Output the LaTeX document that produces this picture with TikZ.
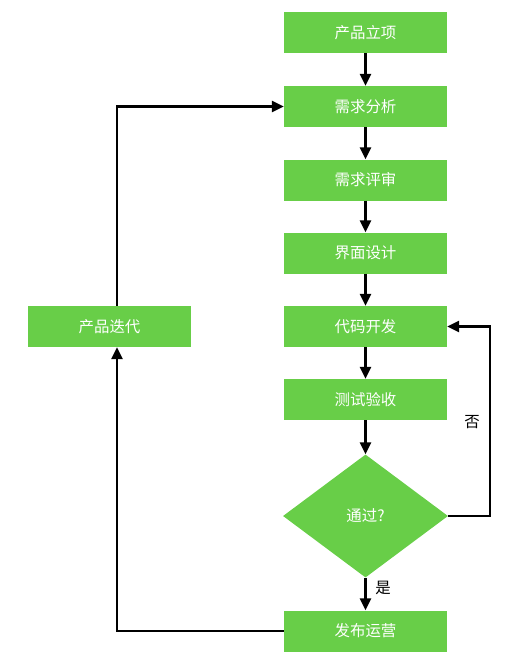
\documentclass[tikz,border=0pt]{standalone}
\usepackage{fontspec}
\setmainfont{Noto Sans CJK SC}
\usetikzlibrary{shapes.geometric,arrows.meta,positioning}
\definecolor{boxgreen}{RGB}{104,206,72}

\begin{document}
\begin{tikzpicture}[x=1bp, y=-1bp,
    every node/.style={font=\fontsize{15.5}{18}\selectfont},
    stepbox/.style={fill=boxgreen, text=white, minimum width=163bp, minimum height=41bp, inner sep=0pt},
    decide/.style={diamond, fill=boxgreen, text=white, minimum width=165bp, minimum height=123bp, inner sep=0pt},
    arr/.style={line width=2.4bp, -{Triangle[width=11bp,length=12bp]}}]
    \useasboundingbox (0,0) rectangle (530,664);

    \foreach \name/\txt/\y in {start/产品立项/32.5, req/需求分析/106.5, review/需求评审/180,
                               ui/界面设计/253, dev/代码开发/326.5, test/测试验收/399.5} {
      \node[stepbox] (\name) at (365.5,\y) {\txt};
    }
    \node[decide] (pass) at (365.5,516) {通过?};
    \node[stepbox] (release) at (365.5,631) {发布运营};
    \node[stepbox] (iter) at (109.5,326.5) {产品迭代};

    \foreach \a/\b in {start/req, req/review, review/ui, ui/dev, dev/test, test/pass, pass/release} {
      \draw[arr] (\a) -- (\b);
    }

    % back to development
    \coordinate (noturn) at (490,516);
    \draw[arr] (pass.east) -- (noturn) |- (dev.east);
    \node (no) at (472,422) {否};
    \node (yes) at (383,588) {是};

    % iteration loop
    \draw[arr] (release.west) -| ([xshift=7.5bp]iter.south);
    \draw[arr] ([xshift=7.5bp]iter.north) |- (req.west);
\end{tikzpicture}
\end{document}
